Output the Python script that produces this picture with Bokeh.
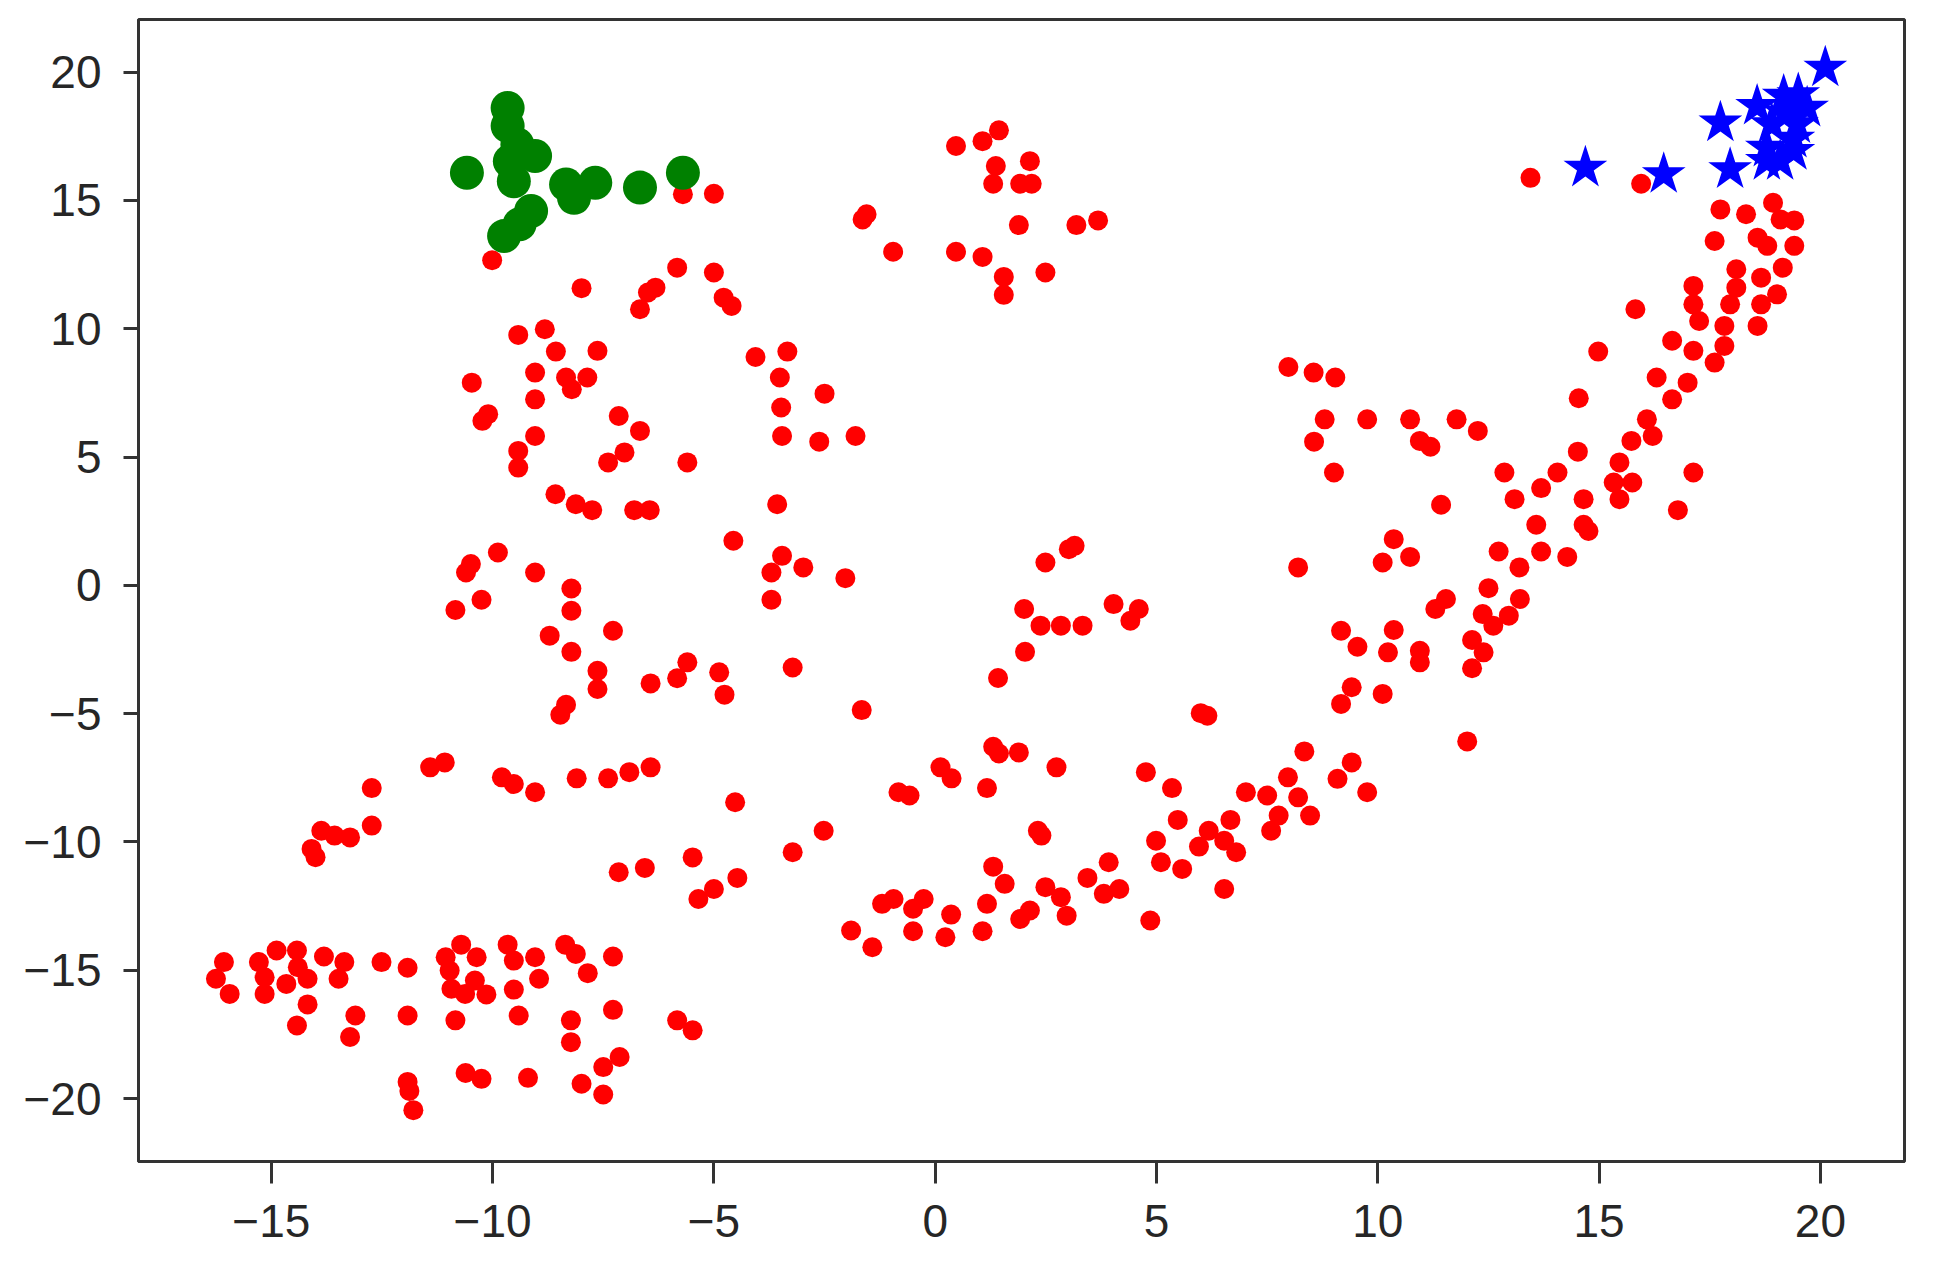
from bokeh.plotting import figure
from bokeh.models import FixedTicker, Range1d
from bokeh.embed import file_html
from bokeh.resources import INLINE

red_x = [
    -10.01, -5.70, -5.00, -7.99, -6.67, -6.49, -6.32, -5.83, -5.00, -4.78, -4.60, -9.42, -8.82, -8.57, -7.63,
    -9.04, -8.34, -8.21, -7.86, -10.47, -9.04,
    0.47, 1.07, 1.44, 1.37, 1.31, 2.14, 1.92, 2.18, 1.89, 3.19, 3.68, -1.64, -1.55, -0.95, 0.47, 1.07, 1.55,
    1.55, 2.49, -4.06, -3.34, -3.51, -2.50, -3.48, 7.98, 8.55, 9.04,
    13.45, 15.95, 17.74, 18.32, 18.93, 19.10, 19.41, 17.61, 18.58, 18.80, 19.41, 19.15, 18.66, 18.10, 18.10,
    17.13, 17.13, 17.26, 17.96, 19.02, 18.66, 18.58, 17.83, 15.82, 16.65, 17.13, 17.83, 17.61, 14.98, 16.30,
    17.00, 16.65, 14.54,
    -10.23, -10.10, -9.04, -9.42, -9.42, -7.15, -6.67, -7.02, -7.39, -5.60, -8.58, -8.12, -7.75, -6.80, -6.45,
    -4.56, -9.88, -10.49, -10.60, -9.04, -8.22, -10.25, -10.84, -8.22, -7.28, -8.71, -8.22, -7.63, -7.63,
    -6.43, -5.83, -5.60, -4.88, -4.76, -8.34, -8.47, -11.08, -11.41, -12.73, -9.79, -9.52, -9.04, -8.10,
    -7.39, -6.91, -6.43, -4.52,
    -3.46, -2.62, -1.80, -3.57, -3.46, -3.70, -2.98, -2.03, -3.70, -3.22, -1.66, 3.15, 3.02, 2.49, 2.01,
    2.38, 2.84, 3.33, 4.03, 4.60, 4.41, 2.03, 1.42, 8.20, 8.80, 8.56, 9.01, 6.00, 6.15, 1.31, 1.44, 1.89,
    2.74, 0.12, 0.37, 1.17, -0.83, -0.58, 4.76, 5.35, 8.34, 7.97, 7.02, 7.50, 8.20,
    9.76, 10.73, 11.78, 12.26, 10.95, 11.19, 16.08, 16.21, 15.73, 14.52, 15.46, 12.86, 14.06, 15.33, 15.75,
    15.46, 17.13, 13.69, 13.09, 14.65, 11.43, 16.78, 13.58, 14.65, 14.76, 10.36, 10.11, 10.73, 12.73, 13.69,
    14.28, 13.20, 12.50, 11.54, 11.30, 13.21, 12.37, 12.61, 12.96, 9.17, 9.54, 10.36, 10.23, 10.95, 10.95,
    12.13, 12.39, 12.13, 9.41, 9.17, 10.11, 12.02, 9.41, 9.09, 9.76,
    -12.73, -13.87, -13.57, -13.22, -14.09, -14.00, -7.15, -6.56, -5.48, -4.47, -5.35, -5.00, -16.07,
    -16.25, -15.94, -15.28, -15.15, -15.15, -14.88, -14.66, -14.42, -14.40, -14.18, -13.81, -13.35, -13.48,
    -14.18, -14.42, -12.51, -11.92, -13.10, -13.22, -11.92, -10.84, -10.71, -11.06, -10.97, -10.93, -10.36,
    -10.62, -10.14, -10.40, -9.66, -9.52, -9.04, -9.52, -8.95, -8.36, -8.12, -7.85, -7.28, -9.41, -8.23,
    -8.23, -7.28, -5.83, -5.48, -11.92, -11.88, -11.79, -10.61, -10.25, -9.20, -7.99, -7.50, -7.13, -7.50,
    -2.52, -3.22, -1.90, -1.42, -1.20, -0.94, -0.50, -0.26, -0.50, 0.36, 0.23, 1.07, 1.17, 1.31, 1.57, 1.92,
    2.14, 2.32, 2.40, 2.49, 2.84, 2.97, 3.44, 3.92, 3.81, 4.16, 4.86, 5.48, 4.99, 5.10, 5.58, 5.96, 6.18,
    6.67, 6.53, 6.80, 6.53, 7.76, 7.59, 8.47,
]
red_y = [
    12.67, 15.24, 15.26, 11.58, 10.76, 11.41, 11.60, 12.38, 12.19, 11.21, 10.89, 9.76, 9.98, 9.11, 9.14,
    8.29, 8.10, 7.64, 8.10, 7.90, 7.25,
    17.12, 17.31, 17.73, 16.34, 15.65, 16.53, 15.65, 15.65, 14.04, 14.04, 14.22, 14.26, 14.46, 13.00, 13.00,
    12.80, 12.02, 11.32, 12.19, 8.90, 9.11, 8.10, 7.47, 6.93, 8.51, 8.29, 8.10,
    15.88, 15.65, 14.65, 14.46, 14.91, 14.26, 14.22, 13.42, 13.55, 13.23, 13.23, 12.38, 11.99, 12.32, 11.60,
    11.67, 10.95, 10.30, 10.95, 11.34, 10.95, 10.11, 10.11, 10.76, 9.53, 9.14, 9.33, 8.68, 9.11, 8.10, 7.90,
    7.25, 7.29,
    6.41, 6.67, 5.82, 5.24, 4.59, 6.60, 6.02, 5.18, 4.79, 4.79, 3.55, 3.16, 2.93, 2.93, 2.93, 1.74, 1.28,
    0.83, 0.50, 0.50, -0.12, -0.56, -0.96, -0.99, -1.77, -1.96, -2.59, -3.33, -4.04, -3.82, -3.62, -3.00,
    -3.39, -4.26, -4.65, -5.04, -6.90, -7.09, -7.90, -7.48, -7.74, -8.06, -7.52, -7.52, -7.28, -7.09, -8.45,
    5.82, 5.60, 5.82, 3.16, 1.15, 0.50, 0.70, 0.28, -0.56, -3.20, -4.86, 1.54, 1.41, 0.89, -0.92, -1.57,
    -1.57, -1.57, -0.73, -0.92, -1.38, -2.59, -3.61, 0.70, 6.47, 5.60, 4.40, -4.98, -5.08, -6.29, -6.55,
    -6.51, -7.09, -7.09, -7.52, -7.90, -8.06, -8.19, -7.28, -7.90, -6.47, -7.48, -8.06, -8.19, -8.26,
    6.47, 6.47, 6.47, 6.02, 5.63, 5.40, 6.47, 5.82, 5.63, 5.21, 4.79, 4.40, 4.40, 4.01, 4.01, 3.36, 4.40,
    3.79, 3.36, 3.36, 3.14, 2.93, 2.36, 2.36, 2.12, 1.80, 0.89, 1.11, 1.32, 1.32, 1.11, 0.70, -0.11, -0.53,
    -0.92, -0.53, -1.12, -1.57, -1.18, -1.77, -2.39, -1.74, -2.61, -2.55, -3.00, -2.13, -2.61, -3.23, -3.97,
    -4.62, -4.23, -6.08, -6.90, -7.54, -8.06,
    -9.36, -9.56, -9.75, -9.82, -10.27, -10.59, -11.18, -11.01, -10.60, -11.40, -12.22, -11.83, -14.68,
    -15.33, -15.92, -14.68, -15.27, -15.92, -14.23, -15.53, -14.23, -14.88, -15.33, -14.46, -14.68, -15.33,
    -16.33, -17.15, -14.68, -14.90, -16.76, -17.60, -16.76, -16.95, -14.00, -14.49, -15.01, -15.72, -14.49,
    -15.92, -15.94, -15.40, -14.00, -14.62, -14.49, -15.75, -15.33, -14.00, -14.36, -15.11, -14.46, -16.76,
    -16.95, -17.80, -16.54, -16.95, -17.34, -19.35, -19.70, -20.45, -19.00, -19.23, -19.19, -19.42, -18.77,
    -18.38, -19.84,
    -9.56, -10.40, -13.45, -14.10, -12.41, -12.22, -12.60, -12.22, -13.48, -12.83, -13.71, -13.48, -12.41,
    -10.96, -11.63, -13.00, -12.67, -9.56, -9.75, -11.76, -12.15, -12.87, -11.40, -10.79, -12.02, -11.83,
    -13.06, -9.14, -9.95, -10.79, -11.05, -10.18, -9.56, -9.14, -9.95, -10.40, -11.83, -8.97, -9.56, -8.97,
]

green_x = [-9.66, -9.66, -9.44, -10.58, -9.04, -9.61, -9.52, -8.34, -8.16, -7.68, -6.67, -5.70, -9.13, -9.74, -9.39]
green_y = [18.60, 17.90, 17.18, 16.08, 16.73, 16.53, 15.75, 15.62, 15.10, 15.69, 15.50, 16.08, 14.59, 13.61, 14.07]

blue_x = [20.11, 19.50, 19.17, 18.57, 17.74, 19.70, 18.90, 19.47, 19.39, 18.79, 19.39, 19.09, 18.79, 17.96, 16.46, 14.69, 19.20]
blue_y = [20.17, 19.13, 19.07, 18.68, 18.03, 18.61, 17.96, 17.96, 17.40, 17.05, 16.92, 16.53, 16.53, 16.21, 16.02, 16.27, 18.40]

x_ticks = [-15, -10, -5, 0, 5, 10, 15, 20]
y_ticks = [-20, -15, -10, -5, 0, 5, 10, 15, 20]

p = figure(width=1928, height=1268, output_backend="svg", toolbar_location=None,
           x_range=Range1d(-18.0, 21.9), y_range=Range1d(-22.45, 22.05),
           min_border_left=138, min_border_right=24, min_border_top=19, min_border_bottom=107)
p.background_fill_color = "white"
p.border_fill_color = "white"
p.grid.visible = False
p.outline_line_color = "#333333"
p.outline_line_width = 3

n = min(len(red_x), len(red_y))
p.scatter(x=red_x[:n], y=red_y[:n], size=20, marker="circle", fill_color="#ff0000", line_color="#ff0000", line_width=0)
p.scatter(x=green_x, y=green_y, size=34, marker="circle", fill_color="#008000", line_color="#008000", line_width=0)
p.scatter(x=blue_x, y=blue_y, size=46, marker="star", fill_color="#0000ff", line_color="#0000ff", line_width=0)

p.xaxis.ticker = FixedTicker(ticks=x_ticks)
p.yaxis.ticker = FixedTicker(ticks=y_ticks)
for ax in (p.xaxis[0], p.yaxis[0]):
    ax.axis_line_color = "#333333"
    ax.axis_line_width = 3
    ax.major_tick_line_color = "#333333"
    ax.major_tick_line_width = 3
    ax.major_tick_in = 0
    ax.minor_tick_line_color = None
    ax.major_label_text_font = "Liberation Sans"
    ax.major_label_text_font_size = "46px"
    ax.major_label_text_color = "#262626"
p.xaxis.major_tick_out = 22
p.yaxis.major_tick_out = 15
p.xaxis.major_label_standoff = 21
p.yaxis.major_label_standoff = 22

open("out.html", "w").write(file_html(p, INLINE))
